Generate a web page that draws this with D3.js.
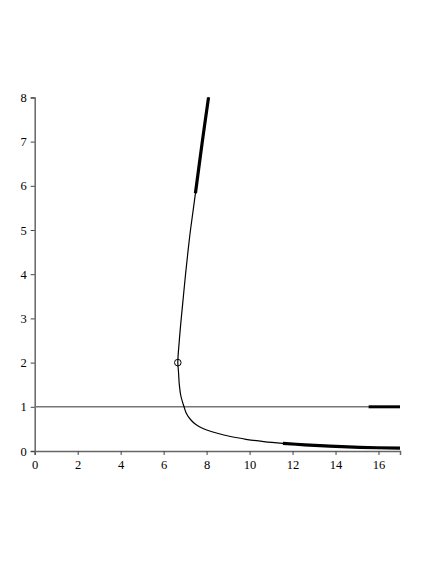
<!DOCTYPE html>
<html>
<head>
<meta charset="utf-8">
<script src="https://cdn.jsdelivr.net/npm/d3@7"></script>
<style>
  html, body { margin: 0; padding: 0; background: #fff; }
</style>
</head>
<body>
<svg id="chart" width="436" height="564"></svg>
<script>
// curve, ordered from the top end down to the tail
const curveX = [8.09, 7.80, 7.48, 7.25, 7.13, 7.02, 6.92, 6.82, 6.73, 6.66, 6.69, 6.73, 6.80, 6.95, 7.06, 7.25, 7.50, 7.83, 8.25, 8.80, 9.43, 9.83, 10.66, 11.55, 12.57, 13.73, 15.13, 17.00];
const curveY = [8.00, 7.00, 5.83, 5.00, 4.50, 4.00, 3.50, 3.00, 2.50, 2.00, 1.80, 1.50, 1.25, 1.00, 0.848, 0.713, 0.60, 0.51, 0.435, 0.362, 0.299, 0.265, 0.213, 0.174, 0.140, 0.111, 0.084, 0.063];

// marked point
const markX = [6.66];
const markY = [2.0];

// horizontal line y = 1 and its thick end
const hLineY = 1;
const hLineX = [0, 17];
const hThickX = [15.54, 17];

// thick parts of the curve
const topThickFromY = 5.83;
const tailThickFromX = 11.55;

const xTicks = [0, 2, 4, 6, 8, 10, 12, 14, 16];
const xMinor = [1, 3, 5, 7, 9, 11, 13, 15, 17];
const yTicks = [0, 1, 2, 3, 4, 5, 6, 7, 8];
const yMinor = [0.5, 1.5, 2.5, 3.5, 4.5, 5.5, 6.5, 7.5];

const svg = d3.select("#chart");

const x = d3.scaleLinear().domain([0, 17]).range([34.7, 400]);
const y = d3.scaleLinear().domain([0, 8]).range([451, 97.4]);

const pts = curveX.map((d, i) => [d, curveY[i]]);

const line = d3.line()
  .x(d => x(d[0]))
  .y(d => y(d[1]))
  .curve(d3.curveCatmullRom.alpha(0.5));

// axes
const axisColor = "#666";
const serif = "'Liberation Serif', 'Times New Roman', serif";

const gx = svg.append("g").attr("transform", `translate(0,${y(0)})`);
gx.call(d3.axisBottom(x).tickValues(xMinor).tickSize(2).tickFormat(""));
gx.call(d3.axisBottom(x).tickValues(xTicks).tickSize(4).tickPadding(5).tickFormat(d3.format("d")));

const gy = svg.append("g").attr("transform", `translate(${x(0)},0)`);
gy.call(d3.axisLeft(y).tickValues(yMinor).tickSize(2).tickFormat(""));
gy.call(d3.axisLeft(y).tickValues(yTicks).tickSize(4).tickPadding(4).tickFormat(d3.format("d")));

svg.selectAll(".domain").attr("stroke", axisColor).attr("stroke-width", 1.5);
svg.selectAll(".tick line").attr("stroke", "#444").attr("stroke-width", 1);
// inline style so it beats the sans-serif 10 that d3 puts on the group
svg.selectAll(".tick text")
  .style("font-family", serif)
  .style("font-size", "12.5px")
  .style("fill", "#000");

// horizontal line
svg.append("line")
  .attr("x1", x(hLineX[0])).attr("x2", x(hLineX[1]))
  .attr("y1", y(hLineY)).attr("y2", y(hLineY))
  .attr("stroke", "#777").attr("stroke-width", 1.5);
svg.append("line")
  .attr("x1", x(hThickX[0])).attr("x2", x(hThickX[1]))
  .attr("y1", y(hLineY)).attr("y2", y(hLineY))
  .attr("stroke", "#000").attr("stroke-width", 3);

// thin curve
svg.append("path")
  .datum(pts)
  .attr("d", line)
  .attr("fill", "none")
  .attr("stroke", "#000")
  .attr("stroke-width", 1.2);

// thick bits
svg.append("path")
  .datum(pts.filter(d => d[1] >= topThickFromY))
  .attr("d", line)
  .attr("fill", "none")
  .attr("stroke", "#000")
  .attr("stroke-width", 3.2);

svg.append("path")
  .datum(pts.filter(d => d[0] >= tailThickFromX && d[1] < 1))
  .attr("d", line)
  .attr("fill", "none")
  .attr("stroke", "#000")
  .attr("stroke-width", 3.2);

// marked point
svg.selectAll("circle.mark")
  .data(markX.map((d, i) => [d, markY[i]]))
  .join("circle")
  .attr("class", "mark")
  .attr("cx", d => x(d[0]))
  .attr("cy", d => y(d[1]))
  .attr("r", 3.3)
  .attr("fill", "none")
  .attr("stroke", "#000")
  .attr("stroke-width", 1);
</script>
</body>
</html>
